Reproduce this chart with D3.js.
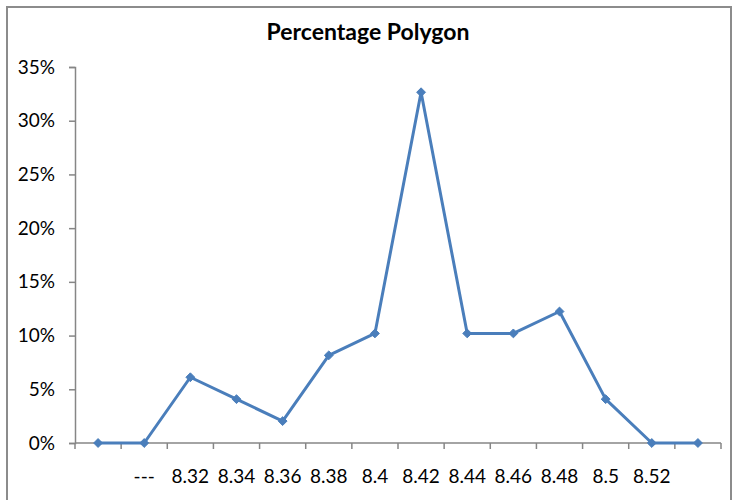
<!DOCTYPE html>
<html><head><meta charset="utf-8">
<script src="https://cdn.jsdelivr.net/npm/d3@7"></script>
<style>body{margin:0;background:#fff}svg{display:block}</style>
</head><body>
<script>
const categories = ["", "---", "8.32", "8.34", "8.36", "8.38", "8.4", "8.42", "8.44", "8.46", "8.48", "8.5", "8.52", ""];
const percentages = [0, 0, 0.0612, 0.0408, 0.0204, 0.0816, 0.102, 0.3265, 0.102, 0.102, 0.1224, 0.0408, 0, 0];
const yTicks = [0, 0.05, 0.10, 0.15, 0.20, 0.25, 0.30, 0.35];
const title = "Percentage Polygon";

(function () {
const W = 733, H = 500;
const font = "Lato, 'Open Sans', sans-serif";
const svg = d3.select("body").append("svg").attr("width", W).attr("height", H);

svg.append("rect").attr("x", 7).attr("y", 7).attr("width", 724).attr("height", 500)
  .attr("fill", "#fff").attr("stroke", "#8c8c8c").attr("stroke-width", 2);

const pl = 75, pr = 721, pt = 67, pb = 443;
const x = d3.scaleBand().domain(d3.range(categories.length)).range([pl, pr]);
const y = d3.scaleLinear().domain([0, 0.35]).range([pb, pt]);

svg.append("text").attr("x", 368).attr("y", 40).attr("text-anchor", "middle")
  .attr("font-family", font).attr("font-weight", "bold").attr("font-size", 23)
  .attr("fill", "#000").text(title);

// y axis
const ya = svg.append("g").attr("transform", `translate(${pl},0)`)
  .call(d3.axisLeft(y).tickValues(yTicks).tickFormat(d3.format(".0%")).tickSize(6).tickPadding(14));
ya.select(".domain").attr("stroke", "#868686").attr("stroke-width", 1.5);
ya.selectAll(".tick line").attr("stroke", "#868686").attr("stroke-width", 1.5);
ya.selectAll("text").attr("font-family", font).attr("font-size", 19).attr("fill", "#000");

// x axis
const xa = svg.append("g").attr("transform", `translate(0,${pb})`);
xa.append("line").attr("x1", pl).attr("x2", pr).attr("y1", 0).attr("y2", 0)
  .attr("stroke", "#868686").attr("stroke-width", 1.5);
const bounds = d3.range(categories.length + 1).map(i => i < categories.length ? x(i) : x(categories.length - 1) + x.bandwidth());
xa.selectAll("line.tk").data(bounds).join("line").attr("class", "tk")
  .attr("x1", d => d).attr("x2", d => d).attr("y1", 0).attr("y2", 6)
  .attr("stroke", "#868686").attr("stroke-width", 1.5);
xa.selectAll("text").data(categories).join("text")
  .attr("x", (d, i) => x(i) + x.bandwidth() / 2).attr("y", 40)
  .attr("text-anchor", "middle").attr("font-family", font).attr("font-size", 19).attr("fill", "#000")
  .text(d => d);

// line
const line = d3.line().x((d, i) => x(i) + x.bandwidth() / 2).y(d => y(d));
svg.append("path").datum(percentages).attr("d", line).attr("fill", "none")
  .attr("stroke", "#4A7EBB").attr("stroke-width", 3).attr("stroke-linejoin", "round");
svg.selectAll("path.m").data(percentages).join("path").attr("class", "m")
  .attr("d", d3.symbol().type(d3.symbolDiamond2).size(50))
  .attr("transform", (d, i) => `translate(${x(i) + x.bandwidth() / 2},${y(d)})`)
  .attr("fill", "#4A7EBB").attr("stroke", "#4A7EBB").attr("stroke-width", 1);
})();
</script>
</body></html>
